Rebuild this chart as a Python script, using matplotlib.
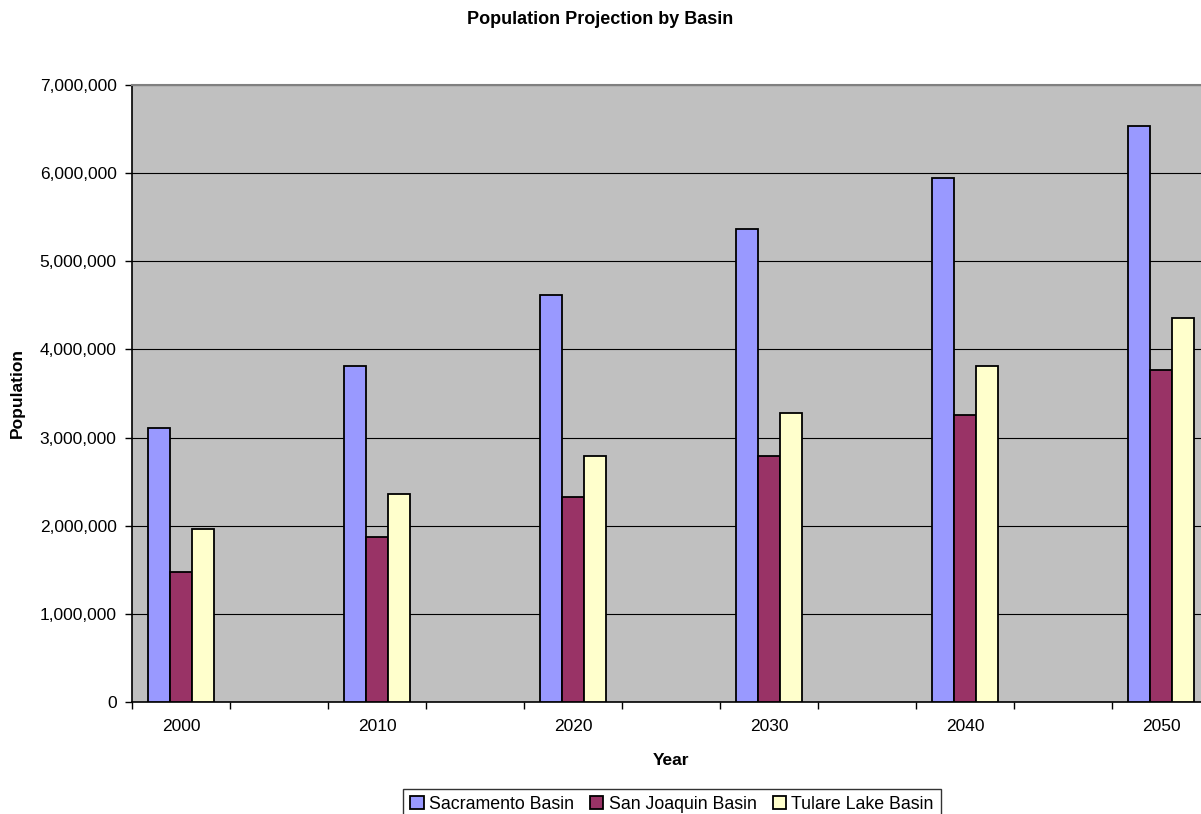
import numpy as np
import matplotlib.pyplot as plt
from matplotlib.ticker import FuncFormatter

plt.rcParams['font.family'] = ['Liberation Sans', 'DejaVu Sans']

# one slot every 5 years, data only every 10 years
slots = [2000, 2005, 2010, 2015, 2020, 2025, 2030, 2035, 2040, 2045, 2050]
years = [2000, 2010, 2020, 2030, 2040, 2050]
sacramento = [3110000, 3810000, 4620000, 5370000, 5950000, 6530000]
san_joaquin = [1470000, 1870000, 2330000, 2790000, 3260000, 3770000]
tulare = [1965000, 2360000, 2790000, 3280000, 3810000, 4355000]

series = [('Sacramento Basin', sacramento, '#9999FF'),
          ('San Joaquin Basin', san_joaquin, '#993366'),
          ('Tulare Lake Basin', tulare, '#FFFFCC')]

fig = plt.figure(figsize=(12.01, 8.14), dpi=100)
# plot area runs off the right edge, as in the original
ax = fig.add_axes([132/1201, 112/814, 1078/1201, 617/814])
ax.set_facecolor('#C0C0C0')

pos = np.array([slots.index(y) for y in years])
w = 0.225
for i, (name, vals, col) in enumerate(series):
    ax.bar(pos + (i - 1) * w, vals, width=w, color=col, edgecolor='black',
           linewidth=1.3, label=name, zorder=3)

ax.set_xlim(-0.5, len(slots) - 0.5)
ax.set_ylim(0, 7000000)
ax.set_yticks(np.arange(0, 7000001, 1000000))
ax.yaxis.set_major_formatter(FuncFormatter(lambda v, p: f'{int(v):,}'))
ax.yaxis.grid(True, color='black', linewidth=0.8, zorder=1)
ax.set_axisbelow(True)

ax.set_xticks(np.arange(-0.5, len(slots), 1.0))
ax.set_xticklabels([])
ax.set_xticks(pos, [str(y) for y in years], minor=True)
ax.tick_params(axis='x', which='minor', length=0, pad=12, labelsize=12.5)
ax.tick_params(axis='x', which='major', direction='out', length=5, width=1)
ax.tick_params(axis='y', direction='out', length=5, width=1, pad=6, labelsize=12.5)

ax.spines['right'].set_visible(False)
ax.spines['top'].set_color('#808080')
ax.spines['top'].set_linewidth(1.5)
ax.spines['left'].set_linewidth(1.2)
ax.spines['bottom'].set_linewidth(1.2)

fig.text(0.5, 1 - 20/814, 'Population Projection by Basin', ha='center', va='center',
         fontsize=13, fontweight='bold')
ax.set_xlabel('Year', fontsize=12.5, fontweight='bold', labelpad=14)
fig.text(17/1201, 1 - 393/814, 'Population', rotation=90, ha='center', va='center',
         fontsize=12.5, fontweight='bold')

leg = fig.legend(loc='upper center', bbox_to_anchor=(672/1201, 1 - 789/814), ncol=3,
                 frameon=True, fancybox=False, edgecolor='black', fontsize=12.8,
                 handlelength=0.75, handleheight=0.75, handletextpad=0.3,
                 columnspacing=0.9, borderpad=0.4, borderaxespad=0)
leg.get_frame().set_linewidth(1)

fig.savefig('out.png', dpi=100)
